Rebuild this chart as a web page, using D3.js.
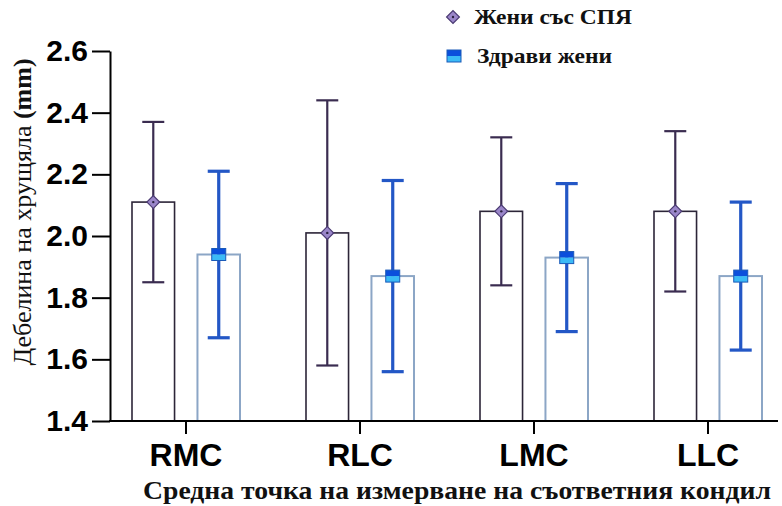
<!DOCTYPE html>
<html>
<head>
<meta charset="utf-8">
<script src="https://cdn.jsdelivr.net/npm/d3@7"></script>
<style>
  body { margin: 0; background: #fff; }
  svg { display: block; }
</style>
</head>
<body>
<div id="chart"></div>
<script>
// values
const categories = ['RMC', 'RLC', 'LMC', 'LLC'];
const pcosMean = [2.11, 2.01, 2.08, 2.08];
const pcosSD = [0.26, 0.43, 0.24, 0.26];
const healthyMean = [1.94, 1.87, 1.93, 1.87];
const healthySD = [0.27, 0.31, 0.24, 0.24];
const yTicks = [1.4, 1.6, 1.8, 2.0, 2.2, 2.4, 2.6];
const seriesKeys = ['pcos', 'healthy'];
const seriesLabels = ['Жени със СПЯ', 'Здрави жени'];

const width = 782;
const height = 506;

const svg = d3.select('#chart').append('svg')
  .attr('width', width)
  .attr('height', height);

const y = d3.scaleLinear().domain([1.4, 2.6]).range([421, 51]);
const x = d3.scaleBand().domain(categories).range([99, 795]).padding(0);
const inner = d3.scaleBand().domain(seriesKeys).range([33, 141]).paddingInner(0.35);

const rows = categories.map((c, i) => ({
  cat: c,
  pcos: { mean: pcosMean[i], sd: pcosSD[i] },
  healthy: { mean: healthyMean[i], sd: healthySD[i] }
}));

const style = {
  pcos: { bar: '#2c2538', err: '#3a2c50', errW: 2.2 },
  healthy: { bar: '#8ca6c6', err: '#2357c6', errW: 3.2 }
};

// bars
const groups = svg.append('g').selectAll('g')
  .data(rows)
  .enter().append('g')
  .attr('transform', d => 'translate(' + x(d.cat) + ',0)');

seriesKeys.forEach(k => {
  groups.append('rect')
    .attr('x', inner(k))
    .attr('y', d => y(d[k].mean))
    .attr('width', inner.bandwidth())
    .attr('height', d => y(1.4) - y(d[k].mean))
    .attr('fill', '#fff')
    .attr('stroke', style[k].bar)
    .attr('stroke-width', k === 'pcos' ? 1.6 : 2);
});

// error bars
const capW = 22;
seriesKeys.forEach(k => {
  const cx = inner(k) + inner.bandwidth() / 2;
  const e = groups.append('g')
    .attr('stroke', style[k].err)
    .attr('stroke-width', style[k].errW)
    .attr('fill', 'none');
  e.append('line')
    .attr('x1', cx).attr('x2', cx)
    .attr('y1', d => y(d[k].mean + d[k].sd))
    .attr('y2', d => y(d[k].mean - d[k].sd));
  e.append('line')
    .attr('x1', cx - capW / 2).attr('x2', cx + capW / 2)
    .attr('y1', d => y(d[k].mean + d[k].sd))
    .attr('y2', d => y(d[k].mean + d[k].sd));
  e.append('line')
    .attr('x1', cx - capW / 2).attr('x2', cx + capW / 2)
    .attr('y1', d => y(d[k].mean - d[k].sd))
    .attr('y2', d => y(d[k].mean - d[k].sd));
});

// markers
function diamond(sel) {
  sel.append('path')
    .attr('d', d3.symbol().type(d3.symbolSquare).size(82)())
    .attr('transform', 'rotate(45)')
    .attr('fill', '#9a86c9')
    .attr('stroke', '#4b3b73')
    .attr('stroke-width', 1.2);
  sel.append('circle').attr('r', 1.2).attr('fill', '#2a2040');
}
function blueSquare(sel) {
  sel.append('rect').attr('x', -7).attr('y', -6).attr('width', 14).attr('height', 6).attr('fill', '#0b4fdc');
  sel.append('rect').attr('x', -7).attr('y', 0).attr('width', 14).attr('height', 6).attr('fill', '#3bbaf6');
  sel.append('rect').attr('x', -7).attr('y', -6).attr('width', 14).attr('height', 12)
    .attr('fill', 'none').attr('stroke', '#1a5ab8').attr('stroke-width', 1);
}

groups.append('g')
  .attr('transform', d => 'translate(' + (inner('pcos') + inner.bandwidth() / 2) + ',' + y(d.pcos.mean) + ')')
  .call(diamond);
groups.append('g')
  .attr('transform', d => 'translate(' + (inner('healthy') + inner.bandwidth() / 2) + ',' + y(d.healthy.mean) + ')')
  .call(blueSquare);

// axes
const yAxis = svg.append('g')
  .attr('transform', 'translate(110,0)')
  .call(d3.axisLeft(y).tickValues(yTicks).tickFormat(d3.format('.1f')).tickSize(18).tickSizeOuter(0).tickPadding(4));
yAxis.selectAll('path, line').attr('stroke', '#000').attr('stroke-width', 2);
yAxis.selectAll('text')
  .attr('font-family', 'Liberation Sans, Arial, sans-serif')
  .attr('font-weight', 'bold')
  .attr('font-size', 30)
  .attr('fill', '#000');

const xAxis = svg.append('g')
  .attr('transform', 'translate(0,421)')
  .call(d3.axisBottom(x).tickSize(13).tickPadding(9));
xAxis.select('.domain').remove();
xAxis.selectAll('line').attr('stroke', '#000').attr('stroke-width', 2);
xAxis.selectAll('text')
  .attr('font-family', 'Liberation Sans, Arial, sans-serif')
  .attr('font-weight', 'bold')
  .attr('font-size', 32)
  .attr('fill', '#000');
svg.append('line')
  .attr('x1', 109).attr('x2', 778)
  .attr('y1', 421).attr('y2', 421)
  .attr('stroke', '#000').attr('stroke-width', 2);

// axis titles
const yTitle = svg.append('text')
  .attr('transform', 'translate(31,212) rotate(-90)')
  .attr('text-anchor', 'middle')
  .attr('font-family', 'Liberation Serif, Times New Roman, serif')
  .attr('font-size', 26)
  .attr('fill', '#111');
yTitle.append('tspan').text('Дебелина на хрущяла ');
yTitle.append('tspan').attr('font-weight', 'bold').text('(mm)');

svg.append('text')
  .attr('x', 143).attr('y', 499)
  .attr('textLength', 628)
  .attr('lengthAdjust', 'spacingAndGlyphs')
  .attr('font-family', 'Liberation Serif, Times New Roman, serif')
  .attr('font-weight', 'bold')
  .attr('font-size', 26)
  .attr('fill', '#111')
  .text('Средна точка на измерване на съответния кондил');

// legend
const legend = svg.append('g');
legend.append('g').attr('transform', 'translate(453,17)').call(diamond);
legend.append('g').attr('transform', 'translate(454,56)').call(blueSquare);
const legendX = [474, 477];
const legendY = [24, 63];
const legendW = [158, 135];
seriesLabels.forEach((t, i) => {
  legend.append('text')
    .attr('x', legendX[i])
    .attr('y', legendY[i])
    .attr('textLength', legendW[i])
    .attr('lengthAdjust', 'spacingAndGlyphs')
    .attr('font-family', 'Liberation Serif, Times New Roman, serif')
    .attr('font-weight', 'bold')
    .attr('font-size', 21)
    .attr('fill', '#111')
    .text(t);
});
</script>
</body>
</html>
